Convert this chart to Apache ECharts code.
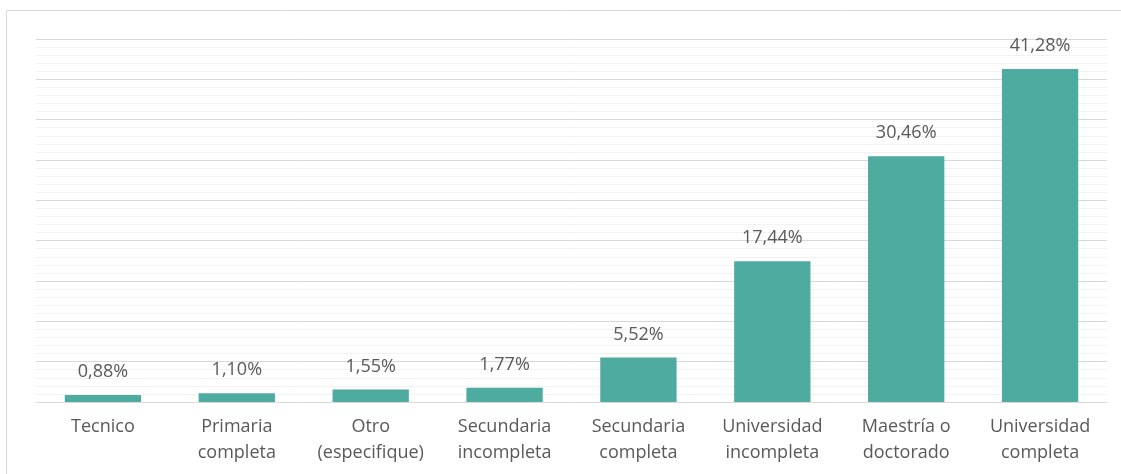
<!DOCTYPE html>
<html><head><meta charset="utf-8">
<script src="https://cdn.jsdelivr.net/npm/echarts@6/dist/echarts.min.js"></script>
<style>html,body{margin:0;padding:0;background:#fff}#c{width:1121px;height:474px}</style>
</head><body><div id="c"></div>
<script>
const categories = ['Tecnico','Primaria\ncompleta','Otro\n(especifique)','Secundaria\nincompleta','Secundaria\ncompleta','Universidad\nincompleta','Maestría o\ndoctorado','Universidad\ncompleta'];
const values = [0.88, 1.10, 1.55, 1.77, 5.52, 17.44, 30.46, 41.28];
const yMax = 45, yInterval = 5;

const chart = echarts.init(document.getElementById('c'), null, {renderer:'canvas'});
chart.setOption({
  animation:false,
  textStyle:{fontFamily:'Open Sans'},
  graphic:[{type:'polyline', shape:{points:[[6.5,474],[6.5,10.5],[1121,10.5]]}, style:{stroke:'#d9d9d9', lineWidth:1, fill:null}}],
  grid:{left:36, right:14, top:39, bottom:72, containLabel:false},
  xAxis:{type:'category', data:categories,
    axisLine:{lineStyle:{color:'#d9d9d9', width:1}}, axisTick:{show:false},
    axisLabel:{color:'#595959', fontSize:18, lineHeight:26, margin:12, interval:0, fontFamily:'Open Sans'}},
  yAxis:{type:'value', min:0, max:yMax, interval:yInterval,
    axisLabel:{show:false}, axisLine:{show:false}, axisTick:{show:false},
    splitLine:{lineStyle:{color:'#d9d9d9', width:1}},
    minorTick:{show:false, splitNumber:5},
    minorSplitLine:{show:true, lineStyle:{color:'#f2f2f2', width:1}}},
  series:[{type:'bar', data:values, barWidth:'57%', itemStyle:{color:'#4EABA0'},
    label:{show:true, position:'top', distance:14, color:'#595959', fontSize:18, fontFamily:'Open Sans',
      formatter:p=>p.value.toFixed(2).replace('.',',')+'%'}}]
});
</script></body></html>
